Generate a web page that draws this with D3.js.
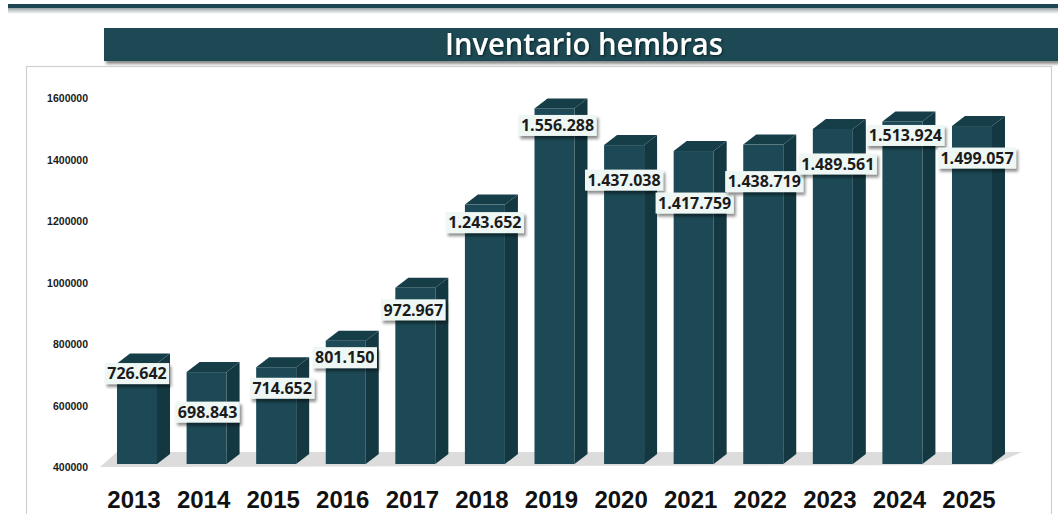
<!DOCTYPE html>
<html>
<head>
<meta charset="utf-8">
<script src="https://cdn.jsdelivr.net/npm/d3@7"></script>
<style>
  body { margin: 0; background: #fff; }
  svg { display: block; }
</style>
</head>
<body>
<script>
// data
var years = ["2013", "2014", "2015", "2016", "2017", "2018", "2019", "2020", "2021", "2022", "2023", "2024", "2025"];
var hembras = [726642, 698843, 714652, 801150, 972967, 1243652, 1556288, 1437038, 1417759, 1438719, 1489561, 1513924, 1499057];
var labels = ["726.642", "698.843", "714.652", "801.150", "972.967", "1.243.652", "1.556.288", "1.437.038", "1.417.759", "1.438.719", "1.489.561", "1.513.924", "1.499.057"];
var yTicks = [400000, 600000, 800000, 1000000, 1200000, 1400000, 1600000];

// where excel dropped each data label (offset from the bar top), layout only
var labelDx = [0, 1, 6, -1, -2, 0, 3, 0, 1, 1, 5, 3, 5];
var labelDy = [10, 40, 21, 17, 22, 18, 17, 35, 52, 37, 35, 14, 32];

var W = 1058, H = 514;
var svg = d3.select("body").append("svg").attr("width", W).attr("height", H);

var defs = svg.append("defs");
var sh = defs.append("filter").attr("id", "shadow").attr("x", "-20%").attr("y", "-30%").attr("width", "150%").attr("height", "180%");
sh.append("feDropShadow").attr("dx", 2).attr("dy", 3).attr("stdDeviation", 1.6).attr("flood-color", "#000").attr("flood-opacity", 0.45);
var tsh = defs.append("filter").attr("id", "tshadow");
tsh.append("feDropShadow").attr("dx", 1).attr("dy", 1).attr("stdDeviation", 0.8).attr("flood-color", "#000").attr("flood-opacity", 0.6);
var lg = defs.append("linearGradient").attr("id", "topline").attr("x1", 0).attr("y1", 0).attr("x2", 0).attr("y2", 1);
lg.append("stop").attr("offset", "0%").attr("stop-color", "#9aa3a6");
lg.append("stop").attr("offset", "100%").attr("stop-color", "#ffffff");

// top rule with its soft shadow
svg.append("rect").attr("x", 8).attr("y", 8).attr("width", W - 8).attr("height", 6).attr("fill", "url(#topline)");
svg.append("rect").attr("x", 8).attr("y", 4).attr("width", W - 8).attr("height", 4).attr("fill", "#1c4752");

// title bar
svg.append("rect").attr("x", 104).attr("y", 28).attr("width", W - 104).attr("height", 33)
  .attr("fill", "#1c4852").attr("filter", "url(#shadow)");
svg.append("text").attr("x", 584).attr("y", 55).attr("text-anchor", "middle")
  .attr("font-family", "'Open Sans', sans-serif").attr("font-weight", 600).attr("font-size", 31)
  .attr("textLength", 278).attr("lengthAdjust", "spacingAndGlyphs")
  .attr("fill", "#fff").attr("filter", "url(#tshadow)").text("Inventario hembras");

// chart frame
svg.append("rect").attr("x", 26.5).attr("y", 66.5).attr("width", 1025).attr("height", 460)
  .attr("fill", "#fff").attr("stroke", "#cfcfcf").attr("stroke-width", 1.2);

// scales
var y = d3.scaleLinear().domain([400000, 1600000]).range([467, 98]);
var x = d3.scaleBand().domain(years).range([117, 992]).paddingInner(0.425).paddingOuter(0);
var dx = 13, dy = 10, drop = 3;   // 3d depth of the columns

// y axis: labels only
var yAxis = d3.axisLeft(y).tickValues(yTicks).tickFormat(d3.format("d")).tickSize(0).tickPadding(0);
var gy = svg.append("g").attr("transform", "translate(88,0)").call(yAxis);
gy.select(".domain").remove();
gy.selectAll("text").attr("font-family", "'Liberation Sans', sans-serif").attr("font-size", 10.5)
  .attr("font-weight", "bold").attr("fill", "#1a1a1a").attr("dy", "0.35em");

// floor
var fx0 = x(years[0]) - 17, fx1 = x(years[years.length - 1]) + x.bandwidth();
var fy = y(400000);
svg.append("path")
  .attr("d", "M" + fx0 + "," + fy + "L" + fx1 + "," + (fy - 2) + "L" + (fx1 + 30) + "," + (fy - 15) + "L" + (fx0 + 17) + "," + (fy - 15) + "Z")
  .attr("fill", "#dcdcdc");

// columns
var bw = x.bandwidth();
var bars = svg.append("g").selectAll("g").data(hembras).join("g");

bars.each(function(v, i) {
  var g = d3.select(this);
  var x0 = x(years[i]), x1 = x0 + bw;
  var yb = y(400000) - drop, yt = y(v) - drop;
  // side
  g.append("path").attr("d", "M" + x1 + "," + yb + "L" + (x1 + dx) + "," + (yb - dy) + "L" + (x1 + dx) + "," + (yt - dy) + "L" + x1 + "," + yt + "Z")
    .attr("fill", "#143842");
  // top
  g.append("path").attr("d", "M" + x0 + "," + yt + "L" + (x0 + dx) + "," + (yt - dy) + "L" + (x1 + dx) + "," + (yt - dy) + "L" + x1 + "," + yt + "Z")
    .attr("fill", "#163e48");
  // front
  g.append("rect").attr("x", x0).attr("y", yt).attr("width", bw).attr("height", yb - yt).attr("fill", "#1c4955");
});

// data labels
var lab = svg.append("g").selectAll("g").data(hembras).join("g")
  .attr("transform", function(v, i) {
    var cx = x(years[i]) + bw / 2 + labelDx[i];
    var cy = y(v) - drop + labelDy[i];
    return "translate(" + cx + "," + cy + ")";
  });

lab.each(function(v, i) {
  var g = d3.select(this);
  var t = g.append("text").attr("text-anchor", "middle").attr("dy", "0.36em")
    .attr("font-family", "'Open Sans', sans-serif").attr("font-weight", "bold").attr("font-size", 16)
    .attr("fill", "#1b1b1b").text(labels[i]);
  var w = t.node().getComputedTextLength() + 5;
  g.insert("rect", "text").attr("x", -w / 2).attr("y", -10.5).attr("width", w).attr("height", 21)
    .attr("fill", "#eef7f3").attr("filter", "url(#shadow)");
});

// year labels
svg.append("g").selectAll("text").data(years).join("text")
  .attr("x", function(d) { return x(d) + bw / 2 - 3; })
  .attr("y", 508)
  .attr("text-anchor", "middle")
  .attr("font-family", "'Liberation Sans', sans-serif").attr("font-weight", "bold").attr("font-size", 24)
  .attr("fill", "#111").text(function(d) { return d; });
</script>
</body>
</html>
